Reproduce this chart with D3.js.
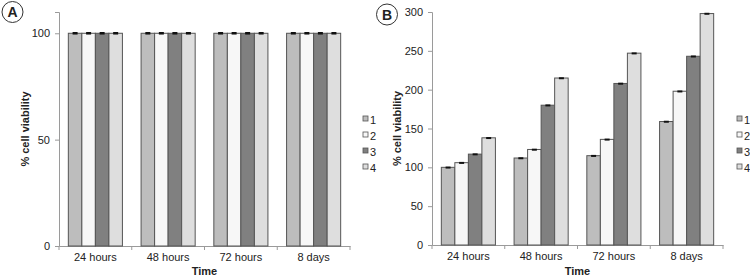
<!DOCTYPE html>
<html lang="en">
<head>
    <meta charset="UTF-8">
    <title>Cell viability</title>
    <style>
        body { margin: 0; background: #fff; }
        svg { display: block; }
        text { font-family: 'Liberation Sans', Arial, sans-serif; fill: #222; }
    </style>
</head>
<body>
    <svg width="750" height="276"></svg>
    <script src="https://d3js.org/d3.v7.min.js"></script>
    <script>
        // Data
        var categories = ["24 hours", "48 hours", "72 hours", "8 days"];
        var series = ["1", "2", "3", "4"];
        var colors = ["#bdbdbd", "#f7f7f7", "#808080", "#dedede"];

        // panel A: every value is 100 %
        var valuesA = [
            [100, 100, 100, 100],
            [100, 100, 100, 100],
            [100, 100, 100, 100],
            [100, 100, 100, 100]
        ];
        var errorsA = [
            [0.6, 0.6, 0.6, 0.6],
            [0.6, 0.6, 0.6, 0.6],
            [0.6, 0.6, 0.6, 0.6],
            [0.6, 0.6, 0.6, 0.6]
        ];
        var ticksA = [0, 50, 100];

        // panel B
        var valuesB = [
            [100, 106, 117, 138],
            [112, 123, 180, 215],
            [115, 136, 208, 247],
            [159, 198, 243, 298]
        ];
        var errorsB = [
            [1, 1, 1, 1],
            [1, 1, 1, 1],
            [1, 1, 1, 1],
            [1, 1, 1, 1]
        ];
        var ticksB = [0, 50, 100, 150, 200, 250, 300];

        var svg = d3.select("svg");

        function panel(opt) {
            var g = svg.append("g");

            var x0 = d3.scaleBand().domain(categories).range([opt.left, opt.right]);
            var bw = x0.bandwidth();
            var barW = bw / (series.length + 1.38);
            var x1 = d3.scaleBand().domain(series)
                .range([(bw - barW * series.length) / 2, (bw + barW * series.length) / 2]);
            var y = d3.scaleLinear().domain([0, opt.max]).range([opt.bottom, opt.top]);

            // y axis
            var yAxis = g.append("g")
                .attr("transform", "translate(" + opt.left + ",0)")
                .call(d3.axisLeft(y).tickValues(opt.ticks).tickSize(4).tickPadding(5));
            yAxis.select(".domain").attr("stroke", "#9a9a9a");
            yAxis.selectAll(".tick line").attr("stroke", "#9a9a9a");
            yAxis.selectAll("text").attr("font-size", "11px").attr("fill", "#222");

            // x axis: ticks sit at category boundaries
            var xAxis = g.append("g")
                .attr("transform", "translate(0," + opt.bottom + ")")
                .call(d3.axisBottom(x0).tickSize(0).tickPadding(7));
            xAxis.select(".domain").attr("stroke", "#9a9a9a");
            xAxis.selectAll("text").attr("font-size", "11px").attr("fill", "#222");
            var bounds = categories.map(function(c) { return x0(c); }).concat([opt.right]);
            xAxis.selectAll(".bound")
                .data(bounds)
                .enter().append("line")
                .attr("x1", function(d) { return d; })
                .attr("x2", function(d) { return d; })
                .attr("y1", 0).attr("y2", 4)
                .attr("stroke", "#9a9a9a");

            // bars
            var groups = g.selectAll(".grp")
                .data(opt.values)
                .enter().append("g")
                .attr("transform", function(d, i) { return "translate(" + x0(categories[i]) + ",0)"; });

            groups.selectAll("rect")
                .data(function(d) { return d; })
                .enter().append("rect")
                .attr("x", function(d, j) { return x1(series[j]); })
                .attr("y", function(d) { return y(d); })
                .attr("width", x1.bandwidth())
                .attr("height", function(d) { return opt.bottom - y(d); })
                .attr("fill", function(d, j) { return colors[j]; })
                .attr("stroke", "#555")
                .attr("stroke-width", 1);

            // error bars
            groups.each(function(d, i) {
                var gg = d3.select(this);
                d.forEach(function(v, j) {
                    var cx = x1(series[j]) + x1.bandwidth() / 2;
                    var e = opt.errors[i][j];
                    gg.append("rect")
                        .attr("x", cx - 2.5)
                        .attr("y", y(v + e))
                        .attr("width", 5)
                        .attr("height", Math.max(2, y(v - e) - y(v + e)))
                        .attr("fill", "#111");
                });
            });

            // axis titles
            g.append("text")
                .attr("x", (opt.left + opt.right) / 2)
                .attr("y", 275)
                .attr("text-anchor", "middle")
                .attr("font-size", "11px")
                .attr("font-weight", "bold")
                .text("Time");

            g.append("text")
                .attr("transform", "translate(" + opt.ylabX + "," + ((opt.top + opt.bottom) / 2) + ") rotate(-90)")
                .attr("text-anchor", "middle")
                .attr("font-size", "11px")
                .attr("font-weight", "bold")
                .text("% cell viability");

            // legend
            var leg = g.selectAll(".leg")
                .data(series)
                .enter().append("g")
                .attr("transform", function(d, i) { return "translate(" + opt.legX + "," + (120 + i * 16) + ")"; });
            leg.append("rect")
                .attr("x", 0).attr("y", -4)
                .attr("width", 5).attr("height", 5)
                .attr("fill", function(d, i) { return colors[i]; })
                .attr("stroke", "#555")
                .attr("stroke-width", 0.8);
            leg.append("text")
                .attr("x", 7).attr("y", 4)
                .attr("font-size", "11px")
                .text(function(d) { return d; });

            // panel letter in a circle
            g.append("circle")
                .attr("cx", opt.tagX).attr("cy", opt.tagY).attr("r", 10.5)
                .attr("fill", "#fff")
                .attr("stroke", "#333")
                .attr("stroke-width", 1);
            g.append("text")
                .attr("x", opt.tagX).attr("y", opt.tagY + 5)
                .attr("text-anchor", "middle")
                .attr("font-size", "14px")
                .attr("font-weight", "bold")
                .text(opt.tag);
        }

        panel({
            left: 59, right: 350, top: 12, bottom: 246, max: 110,
            values: valuesA, errors: errorsA, ticks: ticksA,
            ylabX: 29, legX: 363, tag: "A", tagX: 12.5, tagY: 12
        });

        panel({
            left: 432, right: 723, top: 12, bottom: 245, max: 300,
            values: valuesB, errors: errorsB, ticks: ticksB,
            ylabX: 401, legX: 737, tag: "B", tagX: 387, tagY: 14.5
        });
    </script>
</body>
</html>
